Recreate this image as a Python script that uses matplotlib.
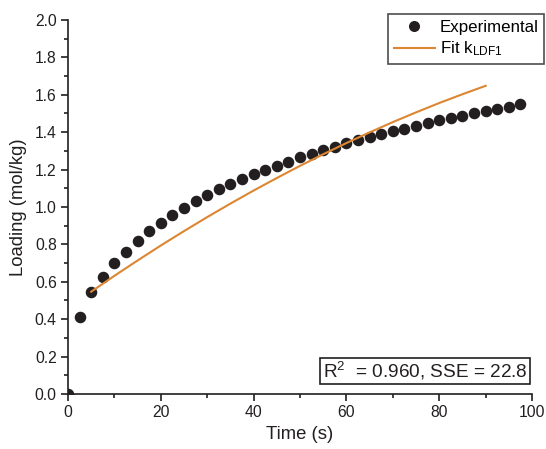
import matplotlib
matplotlib.use("Agg")
import matplotlib.pyplot as plt
from matplotlib.ticker import MultipleLocator, FormatStrFormatter

plt.rcParams['font.family'] = ['Liberation Sans', 'DejaVu Sans']
plt.rcParams['mathtext.fontset'] = 'custom'
plt.rcParams['mathtext.rm'] = 'Liberation Sans'
plt.rcParams['mathtext.it'] = 'Liberation Sans:italic'

# Experimental uptake
time_exp = [0.0, 2.5, 5.0, 7.5, 10.0, 12.5, 15.0, 17.5, 20.0, 22.5,
            25.0, 27.5, 30.0, 32.5, 35.0, 37.5, 40.0, 42.5, 45.0, 47.5,
            50.0, 52.5, 55.0, 57.5, 60.0, 62.5, 65.0, 67.5, 70.0, 72.5,
            75.0, 77.5, 80.0, 82.5, 85.0, 87.5, 90.0, 92.5, 95.0, 97.5]
loading_exp = [0.0, 0.41, 0.547, 0.627, 0.699, 0.761, 0.820, 0.870, 0.916, 0.955,
               0.996, 1.032, 1.062, 1.098, 1.121, 1.151, 1.176, 1.198, 1.219, 1.241,
               1.266, 1.283, 1.306, 1.322, 1.340, 1.356, 1.372, 1.390, 1.406, 1.417,
               1.435, 1.449, 1.463, 1.474, 1.487, 1.501, 1.513, 1.524, 1.536, 1.549]

# LDF model fit
time_fit = [5, 10, 15, 20, 25, 30, 35, 40, 45, 50, 55, 60, 65, 70, 75, 80, 85, 90]
loading_fit = [0.547, 0.632, 0.714, 0.794, 0.871, 0.946, 1.018, 1.088, 1.155,
               1.220, 1.282, 1.342, 1.399, 1.454, 1.506, 1.556, 1.603, 1.648]

stats_text = "R$^2$  = 0.960, SSE = 22.8"

ink = '#231f20'

fig = plt.figure(figsize=(5.46, 4.49), dpi=100)
ax = fig.add_axes([0.1245, 0.1225, 0.85, 0.833])

ax.plot(time_exp, loading_exp, 'o', color=ink, markersize=7.3,
        label='Experimental', zorder=3)
ax.plot(time_fit, loading_fit, '-', color='#DC8632', linewidth=1.5,
        label='Fit k$_{\\mathrm{LDF1}}$', zorder=4)

ax.set_xlim(0, 100)
ax.set_ylim(0, 2.0)
ax.xaxis.set_major_locator(MultipleLocator(20))
ax.xaxis.set_minor_locator(MultipleLocator(10))
ax.yaxis.set_major_locator(MultipleLocator(0.2))
ax.yaxis.set_minor_locator(MultipleLocator(0.1))
ax.yaxis.set_major_formatter(FormatStrFormatter('%.1f'))

for side in ('top', 'right'):
    ax.spines[side].set_visible(False)
for side in ('left', 'bottom'):
    ax.spines[side].set_linewidth(1.2)
    ax.spines[side].set_color(ink)

ax.tick_params(which='major', direction='out', length=5, width=1.2,
               labelsize=11.3, colors=ink, pad=3)
ax.tick_params(which='minor', direction='out', length=3, width=1.2,
               colors=ink)

ax.set_xlabel('Time (s)', fontsize=13.3, color=ink, labelpad=4)
ax.set_ylabel('Loading (mol/kg)', fontsize=13.3, color=ink, labelpad=6)

leg = ax.legend(loc='upper right', bbox_to_anchor=(1.026, 1.016),
                borderaxespad=0, fontsize=12.2, frameon=True, fancybox=False,
                handlelength=2.4, handletextpad=0.3, borderpad=0.33,
                labelspacing=0.3, markerscale=0.95)
leg.get_frame().set_edgecolor(ink)
leg.get_frame().set_linewidth(1.2)

ax.text(0.99, 0.032, stats_text, transform=ax.transAxes, ha='right',
        va='bottom', fontsize=13.7, color=ink,
        bbox=dict(boxstyle='square,pad=0.12', facecolor='white',
                  edgecolor=ink, linewidth=1.2))

fig.savefig('out.png', dpi=100)
